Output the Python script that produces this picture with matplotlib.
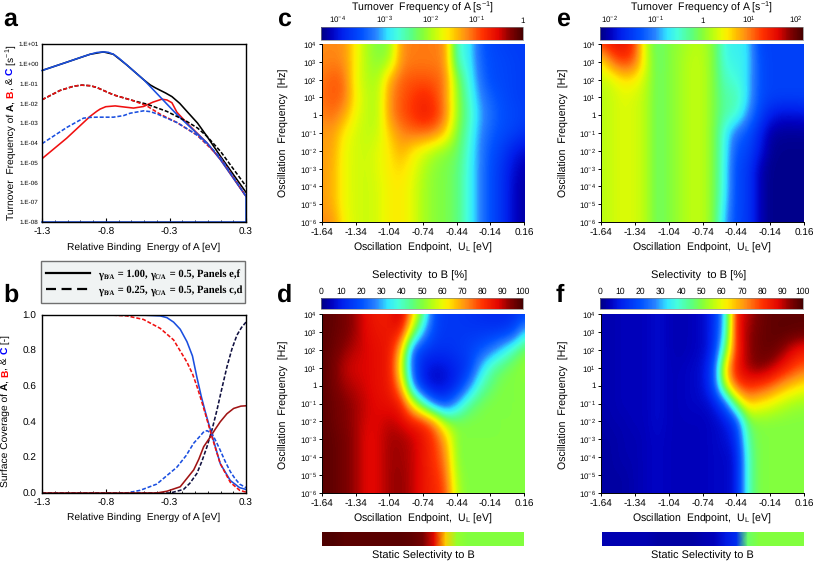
import numpy as np
import matplotlib
matplotlib.use("Agg")
import matplotlib.pyplot as plt
from matplotlib.colors import LinearSegmentedColormap, Normalize
from matplotlib.cm import ScalarMappable
from matplotlib.patches import Rectangle
from matplotlib.lines import Line2D
from matplotlib.ticker import NullLocator, FixedLocator

plt.rcParams["font.family"] = ["Liberation Sans", "DejaVu Sans"]
plt.rcParams["mathtext.default"] = "regular"
plt.rcParams["text.hinting"] = "no_hinting"

W, H = 813, 563

# panel a, log10 of the turnover frequency
a_c_solid_x = [-1.3, -1.106, -0.98, -0.923, -0.87, -0.818, -0.78, -0.74, -0.70, -0.635, -0.50, -0.24, -0.006, 0.1, 0.3, 0.3, -1.3]
a_c_solid_y = [-0.34, 0.08, 0.36, 0.48, 0.57, 0.60, 0.58, 0.48, 0.30, -0.06, -0.82, -2.58, -4.0, -4.85, -6.7, -8.0, -8.0]
a_a_solid_x = [-1.3, -1.106, -0.923, -0.818, -0.74, -0.635, -0.50, -0.451, -0.41, -0.37, -0.33, -0.281, -0.22, -0.163, -0.08, -0.006, 0.1, 0.3]
a_a_solid_y = [-0.34, 0.08, 0.48, 0.60, 0.48, -0.06, -0.82, -1.07, -1.22, -1.35, -1.48, -1.66, -2.0, -2.41, -3.0, -3.67, -4.68, -6.5]
a_b_solid_x = [-1.3, -1.106, -0.923, -0.87, -0.844, -0.80, -0.726, -0.65, -0.582, -0.504, -0.43, -0.36, -0.32, -0.281, -0.242, -0.163, -0.006, 0.1, 0.3]
a_b_solid_y = [-4.8, -3.76, -2.66, -2.40, -2.29, -2.17, -2.13, -2.19, -2.24, -2.16, -1.94, -1.79, -1.83, -1.97, -2.45, -3.0, -4.0, -4.85, -6.7]
a_a_dash_x = [-1.3, -1.159, -1.05, -0.988, -0.92, -0.87, -0.74, -0.582, -0.478, -0.32, -0.163, -0.08, -0.006, 0.1, 0.3]
a_a_dash_y = [-1.82, -1.35, -1.13, -1.08, -1.11, -1.2, -1.57, -1.87, -2.04, -2.41, -2.92, -3.25, -3.67, -4.43, -6.19]
a_b_dash_x = [-1.3, -1.159, -1.05, -0.988, -0.92, -0.87, -0.74, -0.582, -0.478, -0.373, -0.242, -0.085, 0.1, 0.3]
a_b_dash_y = [-1.82, -1.35, -1.13, -1.08, -1.11, -1.2, -1.57, -1.87, -2.13, -2.55, -2.97, -3.6, -4.76, -6.7]
a_c_dash_x = [-1.3, -1.106, -0.975, -0.92, -0.87, -0.74, -0.66, -0.609, -0.504, -0.45, -0.40, -0.242, -0.085, 0.02, 0.1, 0.3]
a_c_dash_y = [-4.04, -3.22, -2.75, -2.71, -2.7, -2.7, -2.62, -2.5, -2.38, -2.42, -2.53, -2.97, -3.6, -4.2, -4.76, -6.7]

# panel b, surface coverage
b_c_solid_x = [-1.3, -0.53, -0.373, -0.32, -0.268, -0.216, -0.163, -0.12, -0.085, -0.05, -0.019, 0.033, 0.098, 0.177, 0.25, 0.3]
b_c_solid_y = [1.0, 1.0, 0.995, 0.985, 0.96, 0.92, 0.85, 0.77, 0.65, 0.54, 0.455, 0.325, 0.165, 0.07, 0.03, 0.02]
b_b_dash_x = [-1.3, -0.766, -0.635, -0.504, -0.373, -0.268, -0.163, -0.12, -0.085, -0.05, -0.019, 0.033, 0.098, 0.177, 0.25, 0.3]
b_b_dash_y = [1.0, 1.0, 0.995, 0.975, 0.925, 0.86, 0.735, 0.67, 0.6, 0.52, 0.445, 0.315, 0.165, 0.06, 0.015, 0.005]
b_c_dash_x = [-1.3, -0.635, -0.53, -0.40, -0.242, -0.17, -0.11, -0.06, -0.03, -0.006, 0.033, 0.065, 0.098, 0.135, 0.177, 0.21, 0.25, 0.3]
b_c_dash_y = [0.0, 0.0, 0.015, 0.05, 0.145, 0.21, 0.28, 0.32, 0.345, 0.35, 0.335, 0.29, 0.24, 0.18, 0.12, 0.085, 0.05, 0.03]
b_b_solid_x = [-1.3, -0.40, -0.32, -0.216, -0.11, -0.07, -0.032, 0.02, 0.06, 0.098, 0.15, 0.203, 0.26, 0.3]
b_b_solid_y = [0.0, 0.0, 0.01, 0.035, 0.13, 0.19, 0.26, 0.315, 0.36, 0.40, 0.445, 0.475, 0.488, 0.49]
b_a_dash_x = [-1.3, -0.294, -0.19, -0.14, -0.085, -0.045, -0.006, 0.035, 0.072, 0.11, 0.151, 0.19, 0.229, 0.265, 0.3]
b_a_dash_y = [0.0, 0.0, 0.02, 0.055, 0.11, 0.18, 0.26, 0.36, 0.465, 0.585, 0.71, 0.81, 0.887, 0.93, 0.96]

# heat maps: rows run from 10^4 Hz down to 10^-6 Hz
endpoint = [-1.64, -1.54, -1.44, -1.34, -1.24, -1.14, -1.04, -0.94, -0.84, -0.74,
            -0.64, -0.54, -0.44, -0.34, -0.24, -0.14, -0.04, 0.06, 0.16]
log_freq = [4, 3, 2, 1, 0, -1, -2, -3, -4, -5, -6]

# panel c, log10 TOF
tof_c = [
    [-1.22, -1.22, -1.25, -1.66, -2.02, -2.22, -2.15, -1.25, -1.16, -1.16, -1.16, -1.25, -2.71, -2.80, -3.41, -3.58, -3.63, -3.67, -3.67],
    [-1.22, -1.18, -1.25, -1.66, -2.02, -2.15, -2.02, -1.25, -1.16, -1.16, -1.16, -1.25, -2.62, -2.80, -3.36, -3.54, -3.58, -3.63, -3.67],
    [-1.15, -1.02, -1.10, -1.75, -1.97, -2.02, -1.35, -1.06, -1.00, -1.00, -1.03, -1.16, -2.19, -2.71, -3.28, -3.54, -3.58, -3.63, -3.67],
    [-1.10, -1.02, -1.10, -1.66, -1.93, -1.97, -1.25, -1.03, -0.90, -0.78, -0.90, -1.25, -2.10, -2.62, -3.15, -3.41, -3.54, -3.63, -3.67],
    [-1.20, -1.10, -1.35, -1.75, -1.93, -1.97, -1.25, -1.00, -0.87, -0.70, -0.82, -1.16, -2.10, -2.53, -3.06, -3.32, -3.50, -3.58, -3.63],
    [-1.30, -1.30, -1.66, -1.84, -1.93, -1.88, -1.49, -1.22, -1.10, -1.10, -1.16, -1.53, -2.19, -2.62, -3.15, -3.41, -3.54, -3.63, -3.76],
    [-1.30, -1.34, -1.75, -1.84, -1.88, -1.78, -1.62, -1.36, -1.62, -1.80, -2.02, -2.15, -2.27, -2.71, -3.19, -3.50, -3.67, -3.93, -4.06],
    [-1.30, -1.39, -1.75, -1.84, -1.88, -1.78, -1.62, -1.55, -1.72, -1.97, -2.15, -2.22, -2.36, -2.75, -3.19, -3.54, -3.76, -4.06, -4.20],
    [-1.30, -1.39, -1.75, -1.84, -1.88, -1.82, -1.66, -1.62, -1.78, -2.02, -2.15, -2.22, -2.36, -2.75, -3.19, -3.54, -3.76, -4.11, -4.24],
    [-1.30, -1.39, -1.75, -1.84, -1.88, -1.82, -1.66, -1.62, -1.78, -2.02, -2.15, -2.22, -2.36, -2.75, -3.19, -3.54, -3.76, -4.11, -4.24],
    [-1.22, -1.25, -1.70, -1.84, -1.88, -1.82, -1.66, -1.62, -1.78, -2.02, -2.15, -2.22, -2.36, -2.75, -3.19, -3.54, -3.76, -4.11, -4.24],
]

# panel e, log10 TOF
tof_e = [
    [1.29, 1.51, 1.55, 1.29, 0.20, -0.19, -0.02, 0.07, 0.20, 0.20, -0.02, -0.63, -0.67, -0.72, -1.42, -1.46, -1.46, -1.46, -1.46],
    [0.50, 1.03, 1.29, 1.11, 0.33, -0.19, -0.02, 0.11, 0.24, 0.24, -0.02, -0.59, -0.63, -0.72, -1.33, -1.46, -1.46, -1.46, -1.46],
    [0.24, 0.33, 0.55, 0.50, 0.24, -0.15, -0.02, 0.11, 0.24, 0.24, -0.02, -0.46, -0.54, -0.76, -1.33, -1.46, -1.46, -1.46, -1.46],
    [0.20, 0.29, 0.37, 0.33, 0.20, -0.15, -0.02, 0.11, 0.24, 0.24, -0.02, -0.37, -0.37, -0.76, -1.33, -1.46, -1.46, -1.46, -1.46],
    [0.20, 0.29, 0.37, 0.33, 0.20, -0.15, -0.02, 0.11, 0.24, 0.24, -0.02, -0.37, -0.46, -0.98, -1.42, -1.76, -1.89, -1.89, -1.85],
    [0.20, 0.29, 0.37, 0.33, 0.20, -0.15, -0.02, 0.11, 0.24, 0.24, -0.02, -0.63, -1.15, -1.33, -1.68, -2.07, -2.11, -2.11, -2.11],
    [0.20, 0.29, 0.37, 0.33, 0.20, -0.15, -0.02, 0.11, 0.24, 0.24, -0.02, -0.63, -1.33, -1.42, -1.76, -2.11, -2.16, -2.16, -2.16],
    [0.20, 0.29, 0.37, 0.33, 0.20, -0.15, -0.02, 0.11, 0.24, 0.24, -0.02, -0.67, -1.42, -1.50, -1.98, -2.16, -2.16, -2.16, -2.16],
    [0.20, 0.29, 0.37, 0.33, 0.20, -0.15, -0.02, 0.11, 0.24, 0.24, -0.02, -0.67, -1.42, -1.50, -1.98, -2.16, -2.16, -2.16, -2.16],
    [0.20, 0.29, 0.37, 0.33, 0.20, -0.15, -0.02, 0.11, 0.24, 0.24, -0.02, -0.76, -1.42, -1.50, -1.98, -2.16, -2.16, -2.16, -2.16],
    [0.20, 0.29, 0.37, 0.33, 0.20, -0.15, -0.02, 0.11, 0.24, 0.24, -0.02, -0.89, -1.42, -1.50, -1.98, -2.16, -2.16, -2.16, -2.16],
]

# panel d, selectivity to B in %
sel_d = [
    [98, 97, 95, 92, 86, 84, 84, 92, 68, 44, 18, 15, 15, 14, 13, 12, 12, 13, 16],
    [98, 97, 95, 92, 87, 85, 85, 84, 55, 30, 17, 15, 15, 15, 15, 15, 15, 18, 33],
    [98, 96, 93, 90, 88, 86, 85, 68, 22, 15, 14, 14, 15, 17, 20, 25, 33, 42, 50],
    [98, 95, 90, 88, 88, 86, 85, 60, 22, 10, 7, 8, 12, 15, 30, 42, 47, 50, 52],
    [98, 95, 92, 90, 88, 86, 85, 70, 28, 10, 6, 8, 12, 25, 40, 46, 50, 50, 50],
    [98, 96, 94, 92, 89, 87, 86, 84, 62, 40, 22, 18, 30, 43, 48, 50, 50, 50, 50],
    [98, 96, 94, 92, 88, 88, 90, 88, 84, 82, 72, 52, 50, 50, 50, 50, 50, 50, 50],
    [98, 97, 95, 92, 87, 88, 92, 92, 90, 85, 80, 68, 50, 50, 50, 50, 50, 50, 50],
    [98, 97, 95, 92, 87, 88, 92, 92, 90, 85, 80, 72, 50, 50, 50, 50, 50, 50, 50],
    [98, 97, 95, 92, 87, 88, 92, 93, 90, 85, 82, 75, 52, 50, 50, 50, 50, 50, 50],
    [98, 97, 95, 92, 87, 88, 92, 93, 90, 85, 82, 78, 54, 50, 50, 50, 50, 50, 50],
]

# panel f, selectivity to B in %
sel_f = [
    [4, 4, 5, 5, 5, 7, 5, 4, 5, 6, 12, 33, 85, 90, 95, 97, 97, 97, 97],
    [4, 4, 5, 5, 5, 7, 5, 4, 5, 6, 12, 35, 85, 92, 96, 97, 98, 98, 98],
    [4, 4, 5, 5, 5, 7, 5, 4, 5, 6, 12, 45, 82, 92, 96, 97, 94, 88, 84],
    [4, 4, 5, 5, 5, 7, 5, 5, 6, 7, 18, 65, 85, 92, 95, 92, 86, 80, 76],
    [4, 4, 5, 5, 5, 7, 5, 5, 6, 7, 18, 58, 78, 82, 80, 76, 70, 66, 62],
    [4, 4, 5, 5, 5, 7, 5, 5, 6, 6, 8, 20, 50, 66, 63, 60, 56, 53, 52],
    [3, 4, 4, 5, 5, 7, 5, 5, 5, 5, 6, 8, 17, 48, 50, 50, 50, 50, 50],
    [3, 3, 4, 4, 5, 6, 5, 5, 5, 5, 6, 7, 12, 43, 50, 50, 50, 50, 50],
    [3, 3, 4, 4, 5, 6, 5, 5, 5, 5, 6, 6, 8, 40, 50, 50, 50, 50, 50],
    [3, 3, 3, 4, 5, 6, 5, 5, 5, 5, 6, 6, 8, 40, 50, 50, 50, 50, 50],
    [3, 3, 3, 4, 5, 6, 5, 5, 5, 5, 6, 6, 8, 40, 50, 50, 50, 50, 50],
]

static_d = [99, 99, 98, 98, 98, 98, 98, 98, 97, 95, 87, 66, 52, 50, 50, 50, 50, 50, 50]
static_f = [4, 4, 4, 4, 4, 3, 3, 3, 3, 4, 5, 9, 13, 47, 50, 50, 50, 50, 50]

sel_ticks = [0, 10, 20, 30, 40, 50, 60, 70, 80, 90, 100]
end_ticks = [-1.64, -1.34, -1.04, -0.74, -0.44, -0.14, 0.16]
freq_labels = ["$10^{4}$", "$10^{3}$", "$10^{2}$", "$10^{1}$", "1", "$10^{-1}$", "$10^{-2}$",
               "$10^{-3}$", "$10^{-4}$", "$10^{-5}$", "$10^{-6}$"]
tof_ticks_c = [-4, -3, -2, -1, 0]
tof_labels_c = ["$10^{-4}$", "$10^{-3}$", "$10^{-2}$", "$10^{-1}$", "1"]
tof_ticks_e = [-2, -1, 0, 1, 2]
tof_labels_e = ["$10^{-2}$", "$10^{-1}$", "1", "$10^{1}$", "$10^{2}$"]

nodes = [
    (0.00, (0, 0, 130)), (0.05, (0, 0, 190)), (0.10, (0, 30, 235)), (0.20, (0, 80, 255)),
    (0.27, (40, 130, 255)), (0.33, (50, 230, 255)), (0.38, (70, 255, 220)), (0.45, (90, 255, 130)),
    (0.50, (128, 255, 64)), (0.55, (180, 255, 20)), (0.60, (235, 250, 0)), (0.63, (255, 235, 0)),
    (0.67, (255, 190, 0)), (0.72, (255, 140, 20)), (0.80, (255, 50, 0)), (0.88, (225, 5, 0)),
    (0.94, (130, 0, 0)), (1.00, (70, 0, 0)),
]
jetish = LinearSegmentedColormap.from_list("jetish", [(p, tuple(v / 255 for v in c)) for p, c in nodes])

RED = "#f01010"
BLUE = "#1a4fe0"
DARKRED = "#a01414"
DASH = (0, (2.5, 1.2))

fig = plt.figure(figsize=(W / 100, H / 100), dpi=100)
renderer = fig.canvas.get_renderer()


def ax_px(x0, y0, x1, y1):
    return fig.add_axes([x0 / W, 1 - y1 / H, (x1 - x0) / W, (y1 - y0) / H])


def label(x, y, s, size=7.2, **kw):
    kw.setdefault("ha", "center")
    kw.setdefault("va", "center")
    return fig.text(x / W, 1 - y / H, s, fontsize=size, **kw)


# pieces of text one after the other, x and y in pixels from the top left
def run(x, y, parts, rotation=0, **kw):
    for p in parts:
        s, opts = p[0], dict(kw, **p[1])
        dy = opts.pop("dy", 0)
        t = fig.text(x / W, 1 - (y + dy) / H, s, rotation=rotation, rotation_mode="anchor",
                     ha="left", va="baseline", **opts)
        box = t.get_window_extent(renderer)
        if rotation == 90:
            y -= box.height
        else:
            x += box.width


def line_axes(x0, y0, x1, y1):
    ax = ax_px(x0, y0, x1, y1)
    ax.set_xlim(-1.3, 0.3)
    ax.set_xticks([-1.3, -0.8, -0.3, 0.3])
    ax.set_xticklabels(["-1.3", "-0.8", "-0.3", "0.3"])
    ax.xaxis.set_minor_locator(FixedLocator(np.arange(-1.3, 0.31, 0.1)))
    ax.tick_params(axis="x", which="major", direction="in", length=3, width=0.8, labelsize=7.2, pad=4)
    ax.tick_params(axis="x", which="minor", direction="in", length=1.5, width=0.6)
    for s in ax.spines.values():
        s.set_linewidth(1.0)
    return ax


# panel a
ax_a = line_axes(42, 44, 246, 222)
ax_a.set_yscale("log")
ax_a.set_ylim(1e-8, 10)
lw = 1.15
ax_a.plot(a_a_solid_x, 10.0 ** np.array(a_a_solid_y), color="black", lw=lw)
ax_a.plot(a_b_solid_x, 10.0 ** np.array(a_b_solid_y), color=RED, lw=lw)
ax_a.plot(a_c_solid_x, 10.0 ** np.array(a_c_solid_y), color=BLUE, lw=lw, clip_on=False)
ax_a.plot(a_a_dash_x, 10.0 ** np.array(a_a_dash_y), color="black", lw=lw, ls=DASH)
ax_a.plot(a_b_dash_x, 10.0 ** np.array(a_b_dash_y), color=RED, lw=lw, ls=DASH)
ax_a.plot(a_c_dash_x, 10.0 ** np.array(a_c_dash_y), color=BLUE, lw=lw, ls=DASH)
ax_a.set_yticks([10.0 ** i for i in range(1, -9, -1)])
ax_a.set_yticklabels(["1.E+01", "1.E+00", "1.E-01", "1.E-02", "1.E-03", "1.E-04",
                      "1.E-05", "1.E-06", "1.E-07", "1.E-08"])
ax_a.yaxis.set_minor_locator(NullLocator())
ax_a.tick_params(axis="y", which="major", length=0, labelsize=4.6, pad=2.5)

# panel b
ax_b = line_axes(42, 315, 246, 493)
ax_b.set_ylim(0, 1)
ax_b.plot(b_c_dash_x, b_c_dash_y, color=BLUE, lw=lw, ls=DASH)
ax_b.plot(b_a_dash_x, b_a_dash_y, color="#101040", lw=lw, ls=DASH)
ax_b.plot(b_b_solid_x, b_b_solid_y, color=DARKRED, lw=lw)
ax_b.plot(b_c_solid_x, b_c_solid_y, color=BLUE, lw=lw)
ax_b.plot(b_b_dash_x, b_b_dash_y, color=RED, lw=lw, ls=DASH)
ax_b.set_yticks([0, 0.2, 0.4, 0.6, 0.8, 1.0])
ax_b.set_yticklabels(["0.0", "0.2", "0.4", "0.6", "0.8", "1.0"])
ax_b.tick_params(axis="y", which="major", length=0, labelsize=7.2, pad=4)

label(144, 247, "Relative Binding  Energy of A [eV]", size=7.4)
label(144, 517, "Relative Binding  Energy of A [eV]", size=7.4)
bold = {"fontweight": "bold"}
run(13.5, 220, [("Turnover  Frequency of ", {}), ("A", bold), (", ", {}),
                ("B", dict(bold, color="red")), (", & ", {}),
                ("C", dict(bold, color="blue")), (" [s$^{-1}$]", {})], rotation=90, fontsize=7.4)
run(8, 487, [("Surface Coverage of ", {}), ("A", bold), (", ", {}),
             ("B", dict(bold, color="red")), (", & ", {}),
             ("C", dict(bold, color="blue")), (" [-]", {})], rotation=90, fontsize=7.4)

# legend box between a and b
fig.add_artist(Rectangle((41 / W, 1 - 303 / H), 204 / W, 42 / H, transform=fig.transFigure,
                         facecolor="#f0f3f3", edgecolor="#707070", lw=1.0))
fig.add_artist(Line2D([46 / W, 90 / W], [1 - 273 / H] * 2, color="black", lw=1.6))
fig.add_artist(Line2D([46 / W, 90 / W], [1 - 289 / H] * 2, color="black", lw=1.6, ls=(0, (4.5, 2.5))))
serif = {"family": "Liberation Serif", "fontweight": "bold"}
for yy, gamma, panels in [(277.5, "1.00", "e,f"), (293.5, "0.25", "c,d")]:
    run(98.5, yy, [("\u03b3", dict(fontsize=7.7)), ("B/A", dict(fontsize=4.9, dy=1.5)),
                   (f" = {gamma}, ", dict(fontsize=7.7)),
                   ("\u03b3", dict(fontsize=7.7)), ("C/A", dict(fontsize=4.9, dy=1.5)),
                   (f" = 0.5, Panels {panels}", dict(fontsize=7.7))], **serif)


def heat_axes(x0, y0, x1, y1, grid, norm):
    ax = ax_px(x0, y0, x1, y1)
    dx = (endpoint[-1] - endpoint[0]) / (len(endpoint) - 1)
    ax.imshow(np.array(grid, dtype=float), cmap=jetish, norm=norm, aspect="auto", origin="upper",
              interpolation="bicubic",
              extent=[endpoint[0] - dx / 2, endpoint[-1] + dx / 2, log_freq[-1] - 0.5, log_freq[0] + 0.5])
    ax.set_xlim(endpoint[0], endpoint[-1])
    ax.set_ylim(log_freq[-1], log_freq[0])
    ax.set_xticks(end_ticks)
    ax.set_xticklabels([f"{v:.2f}" for v in end_ticks])
    ax.set_yticks(log_freq)
    ax.set_yticklabels(freq_labels)
    ax.tick_params(axis="x", length=2, width=0.7, labelsize=7.2, pad=3)
    ax.tick_params(axis="y", length=2, width=0.7, labelsize=5.8, pad=1.5)
    for side, s in ax.spines.items():
        s.set_visible(side in ("left", "bottom"))
        s.set_linewidth(0.7)
    return ax


def top_bar(x0, y0, x1, y1, norm, ticks, labels, size):
    cax = ax_px(x0, y0, x1, y1)
    cb = fig.colorbar(ScalarMappable(norm=norm, cmap=jetish), cax=cax, orientation="horizontal")
    cb.set_ticks(ticks)
    cb.set_ticklabels(labels)
    cb.minorticks_off()
    cax.xaxis.set_ticks_position("top")
    cax.tick_params(axis="x", length=0, labelsize=size, pad=1.5)
    cb.outline.set_linewidth(0.5)
    cb.outline.set_edgecolor("#808080")


def static_bar(x0, y0, x1, y1, values, norm):
    ax = ax_px(x0, y0, x1, y1)
    ax.pcolormesh(endpoint, [0, 1], np.array([values, values], dtype=float),
                  cmap=jetish, norm=norm, shading="gouraud")
    ax.set_axis_off()


norm_c = Normalize(-4.37, 0)
norm_e = Normalize(-2.2, 2.16)
norm_sel = Normalize(0, 100)

heat_axes(322, 44, 524, 222, tof_c, norm_c)
heat_axes(601, 44, 804, 222, tof_e, norm_e)
heat_axes(322, 314, 524, 493, sel_d, norm_sel)
heat_axes(601, 314, 804, 493, sel_f, norm_sel)

top_bar(321, 27, 523, 40, norm_c, tof_ticks_c, tof_labels_c, 5.8)
top_bar(600, 27, 803, 40, norm_e, tof_ticks_e, tof_labels_e, 5.8)
top_bar(321, 298, 523, 309, norm_sel, sel_ticks, [str(v) for v in sel_ticks], 6.2)
top_bar(600, 298, 803, 309, norm_sel, sel_ticks, [str(v) for v in sel_ticks], 6.2)

static_bar(322, 532, 524, 546, static_d, norm_sel)
static_bar(602, 532, 804, 546, static_f, norm_sel)

for cx, ylab_x, tsx in [(423, 284, 423), (702, 564, 702)]:
    label(tsx, 7, "Turnover  Frequency of A [s$^{-1}$]", size=7.6)
    label(tsx - 3, 276, "Selectivity  to B [%]", size=8.0)
    label(cx, 248, "Oscillation  Endpoint,  U$_{L}$ [eV]", size=7.6)
    label(cx, 519, "Oscillation  Endpoint,  U$_{L}$ [eV]", size=7.6)
    label(ylab_x, 133, "Oscillation  Frequency  [Hz]", size=7.6, rotation=90)
    label(ylab_x, 405, "Oscillation  Frequency  [Hz]", size=7.6, rotation=90)
    label(cx, 556, "Static Selectivity to B", size=7.9)

for s, x, y in [("a", 3, 26), ("b", 3, 302), ("c", 277, 26), ("d", 277, 302), ("e", 556, 26), ("f", 556, 302)]:
    label(x, y, s, size=18, ha="left", va="baseline", fontweight="bold")

fig.savefig("out.png", dpi=100)
